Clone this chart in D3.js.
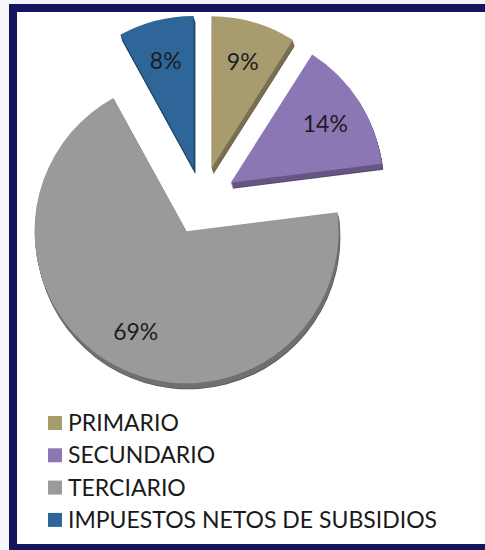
<!DOCTYPE html>
<html>
<head>
<meta charset="utf-8">
<script src="https://cdn.jsdelivr.net/npm/d3@7"></script>
<style>
  html, body { margin: 0; padding: 0; background: #fff; }
  svg { display: block; }
</style>
</head>
<body>
<svg></svg>
<script>
var categories = ["PRIMARIO", "SECUNDARIO", "TERCIARIO", "IMPUESTOS NETOS DE SUBSIDIOS"];
var values = [9, 14, 69, 8];
var colors = ["#A89B6E", "#8C77B5", "#9A9A9A", "#2E6699"];

var width = 485,
    height = 550,
    cx = 202, cy = 201,
    radius = 152,
    explode = 34,
    depth = 6;

var svg = d3.select("svg")
    .attr("width", width)
    .attr("height", height);

svg.append("rect")
    .attr("width", width).attr("height", height)
    .attr("fill", "#f6f6fa");

// navy frame (right side runs off the picture)
svg.append("rect")
    .attr("x", 13).attr("y", 8)
    .attr("width", width).attr("height", 540)
    .attr("fill", "#fff")
    .attr("stroke", "#15145f")
    .attr("stroke-width", 8);

var color = d3.scaleOrdinal().domain(categories).range(colors);

var pie = d3.pie().sort(null).value(function(d) { return d.value; });
var arc = d3.arc().innerRadius(0).outerRadius(radius);

var data = categories.map(function(c, i) { return {name: c, value: values[i]}; });
var arcs = pie(data);

var total = d3.sum(values);

var slices = svg.append("g").selectAll("g")
    .data(arcs)
  .enter().append("g")
    .attr("transform", function(d) {
      var mid = (d.startAngle + d.endAngle) / 2;
      return "translate(" + (cx + explode * Math.sin(mid)) + "," + (cy - explode * Math.cos(mid)) + ")";
    });

// fake 3d side
d3.range(depth, 0, -1).forEach(function(k) {
  slices.append("path")
      .attr("d", arc)
      .attr("transform", "translate(" + (k * 0.3) + "," + k + ")")
      .attr("fill", function(d) { return d3.color(color(d.data.name)).darker(k == depth ? 1.4 : 0.9); });
});

slices.append("path")
    .attr("d", arc)
    .attr("fill", function(d) { return color(d.data.name); });

slices.append("text")
    .attr("x", function(d) { return 112 * Math.sin((d.startAngle + d.endAngle) / 2); })
    .attr("y", function(d) { return -112 * Math.cos((d.startAngle + d.endAngle) / 2); })
    .attr("text-anchor", "middle")
    .attr("dominant-baseline", "central")
    .style("font-family", "Lato, 'Open Sans', sans-serif")
    .style("font-size", "23px")
    .attr("fill", "#1c1c24")
    .text(function(d) { return Math.round(d.data.value / total * 100) + "%"; });

// legend
var legend = svg.append("g").selectAll("g")
    .data(categories)
  .enter().append("g")
    .attr("transform", function(d, i) { return "translate(48," + (431 + i * 32.3) + ")"; });

legend.append("rect")
    .attr("x", 0).attr("y", -15)
    .attr("width", 14).attr("height", 14)
    .attr("fill", function(d) { return color(d); });

legend.append("text")
    .attr("x", 20)
    .style("font-family", "Lato, 'Open Sans', sans-serif")
    .style("font-size", "23px")
    .attr("fill", "#1a1a1a")
    .text(function(d) { return d; });
</script>
</body>
</html>
